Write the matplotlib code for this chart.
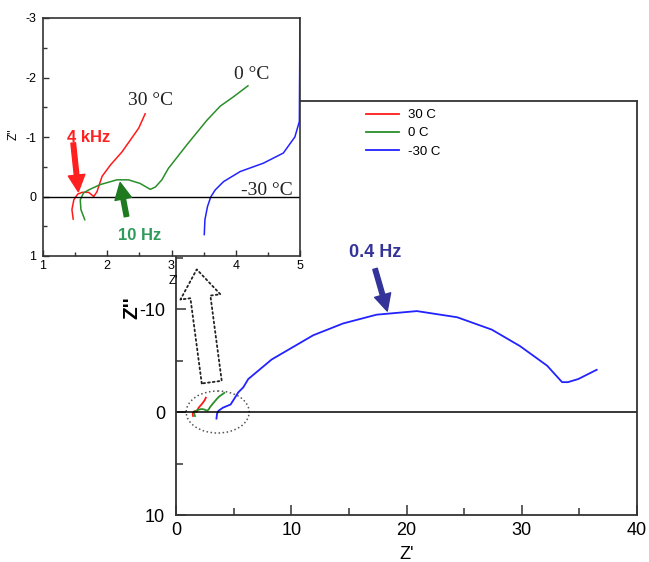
import numpy as np
import matplotlib
matplotlib.use("Agg")
import matplotlib.pyplot as plt
from matplotlib.patches import Ellipse
from matplotlib.ticker import MultipleLocator

plt.rcParams['font.family'] = ['Liberation Sans', 'DejaVu Sans']
plt.rcParams['axes.unicode_minus'] = False

# impedance spectra, Z' (x) and Z'' (y, plotted inverted)
red_x = [1.47, 1.45, 1.48, 1.54, 1.61, 1.71, 1.79, 1.84, 1.92, 2.05, 2.23, 2.36, 2.49, 2.59]
red_y = [0.38, 0.22, 0.055, -0.04, -0.07, -0.07, 0.0, -0.08, -0.34, -0.53, -0.75, -0.95, -1.15, -1.39]

green_x = [1.65, 1.59, 1.58, 1.63, 1.71, 1.89, 2.15, 2.33, 2.51, 2.67, 2.75, 2.85, 2.95,
           3.24, 3.55, 3.76, 3.97, 4.19]
green_y = [0.39, 0.22, 0.055, -0.06, -0.11, -0.2, -0.28, -0.28, -0.22, -0.12, -0.16, -0.28, -0.47,
           -0.87, -1.28, -1.52, -1.68, -1.86]

# -30 C, full arc (main panel)
blue_x = [3.51, 3.56, 3.68, 4.07, 4.74, 5.4, 5.84, 6.27, 8.3,
          11.9, 14.5, 17.4, 20.9, 24.4, 27.4, 29.85, 32.2, 33.5, 34.0, 34.9, 36.5]
blue_y = [0.64, 0.17, -0.11, -0.42, -0.73, -1.9, -2.4, -3.2, -5.1,
          -7.45, -8.6, -9.45, -9.8, -9.2, -8.0, -6.4, -4.5, -2.9, -2.9, -3.2, -4.1]

# -30 C, high-frequency detail (inset)
blue_zoom_x = [3.51, 3.52, 3.56, 3.61, 3.68, 3.81, 4.07, 4.43, 4.74, 4.92, 4.99, 5.0]
blue_zoom_y = [0.64, 0.39, 0.17, 0.01, -0.11, -0.25, -0.42, -0.56, -0.73, -1.0, -1.26, -3.1]

labels = ["30 C", "0 C", "-30 C"]
colors = ["#ff1a1a", "#2a8f2a", "#2222ff"]
main_series = [(red_x, red_y), (green_x, green_y), (blue_x, blue_y)]
inset_series = [(red_x, red_y), (green_x, green_y), (blue_zoom_x, blue_zoom_y)]

spine_c = "#333333"

fig = plt.figure(figsize=(6.49, 5.62), dpi=100)

# main axes
ax = fig.add_axes([176 / 649, 47 / 562, 461 / 649, 414 / 562])
for (x, y), c, lab in zip(main_series, colors, labels):
    ax.plot(x, y, color=c, lw=1.3, label=lab)
ax.axhline(0, color="k", lw=1.1)
ax.set_xlim(0, 40)
ax.set_ylim(10, -30.2)
ax.xaxis.set_major_locator(MultipleLocator(10))
ax.xaxis.set_minor_locator(MultipleLocator(5))
# -20 and -30 labels sit under the inset
ax.set_yticks([-30, -20, -10, 0, 10], labels=["", "", "-10", "0", "10"])
ax.yaxis.set_minor_locator(MultipleLocator(5))
ax.tick_params(which="both", direction="in", color=spine_c, top=False, right=False)
ax.tick_params(which="major", length=7, width=1.1, labelsize=13)
ax.tick_params(axis="x", which="major", pad=5)
ax.tick_params(axis="y", which="major", pad=8)
ax.tick_params(which="minor", length=5, width=1.1)
for s in ax.spines.values():
    s.set_color(spine_c)
    s.set_linewidth(1.3)
ax.set_xlabel("Z'", fontsize=13, va="top")
ax.xaxis.set_label_coords(0.5, -0.075)
ax.set_ylabel("Z''", fontsize=15, fontweight="bold")
ax.yaxis.set_label_coords(-0.075, 0.5)

ax.legend(loc="upper left", bbox_to_anchor=(366 / 649, 1 - 109 / 562),
          bbox_transform=fig.transFigure, frameon=False, fontsize=9.5,
          handlelength=2.5, handletextpad=0.7, labelspacing=0.45,
          borderpad=0, borderaxespad=0)

ax.text(17.27, -15.5, "0.4 Hz", color="#333399", fontsize=13, fontweight="bold",
        ha="center", va="center")
ax.annotate("", xy=(18.33, -9.8), xytext=(17.27, -13.9),
            arrowprops=dict(arrowstyle="simple,head_length=0.8,head_width=0.8,tail_width=0.22",
                            mutation_scale=15, color="#333399", shrinkA=0, shrinkB=0))

# zoom marker: dotted ellipse and hollow dotted arrow
ax.add_patch(Ellipse((3.62, 0.0), 5.47, 4.08, fill=False, ls=":", ec="#555555",
                     lw=1.1, clip_on=False))
ax.annotate("", xy=(1.8, -13.85), xytext=(3.1, -2.9),
            arrowprops=dict(arrowstyle="simple,head_length=2.0,head_width=2.9,tail_width=1.45",
                            mutation_scale=10, fc="white", ec="#222222", ls=":", lw=1.3,
                            shrinkA=0, shrinkB=0), annotation_clip=False)

# inset
ins = fig.add_axes([43 / 649, 306 / 562, 257 / 649, 238 / 562])
ins.set_facecolor("white")
for (x, y), c in zip(inset_series, colors):
    ins.plot(x, y, color=c, lw=1.1)
ins.axhline(0, color="k", lw=1.0)
ins.set_xlim(1, 5)
ins.set_ylim(1, -3)
ins.xaxis.set_major_locator(MultipleLocator(1))
ins.xaxis.set_minor_locator(MultipleLocator(0.5))
ins.yaxis.set_major_locator(MultipleLocator(1))
ins.yaxis.set_minor_locator(MultipleLocator(0.5))
ins.tick_params(which="both", direction="in", color=spine_c, top=False, right=False)
ins.tick_params(which="major", length=4.5, width=1.0, labelsize=9)
ins.tick_params(which="minor", length=3, width=1.0)
ins.tick_params(axis="x", which="major", pad=3)
ins.tick_params(axis="y", which="major", pad=5)
for s in ins.spines.values():
    s.set_color(spine_c)
    s.set_linewidth(1.2)
ins.set_xlabel("Z'", fontsize=8.5, va="top")
ins.xaxis.set_label_coords(0.506, -0.08)
ins.set_ylabel("Z''", fontsize=8.5)
ins.yaxis.set_label_coords(-0.09, 0.51)

serif = ["Liberation Serif", "DejaVu Serif"]
ins.text(2.68, -1.62, "30 °C", family=serif, fontsize=14, color="#222222", ha="center", va="center")
ins.text(4.25, -2.05, "0 °C", family=serif, fontsize=14, color="#222222", ha="center", va="center")
ins.text(4.48, -0.1, "-30 °C", family=serif, fontsize=14, color="#222222", ha="center", va="center")

ins.text(1.71, -1.0, "4 kHz", color="#ff2020", fontsize=12, fontweight="bold", ha="center", va="center")
ins.annotate("", xy=(1.55, -0.08), xytext=(1.47, -0.9),
             arrowprops=dict(arrowstyle="simple,head_length=0.8,head_width=0.8,tail_width=0.22",
                             mutation_scale=15, color="#ff2020", shrinkA=0, shrinkB=0))
ins.text(2.51, 0.65, "10 Hz", color="#2e9b5b", fontsize=12, fontweight="bold", ha="center", va="center")
ins.annotate("", xy=(2.2, -0.235), xytext=(2.3, 0.335),
             arrowprops=dict(arrowstyle="simple,head_length=0.8,head_width=0.8,tail_width=0.22",
                             mutation_scale=15, color="#1f7a1f", shrinkA=0, shrinkB=0))

fig.savefig("out.png", dpi=100)
